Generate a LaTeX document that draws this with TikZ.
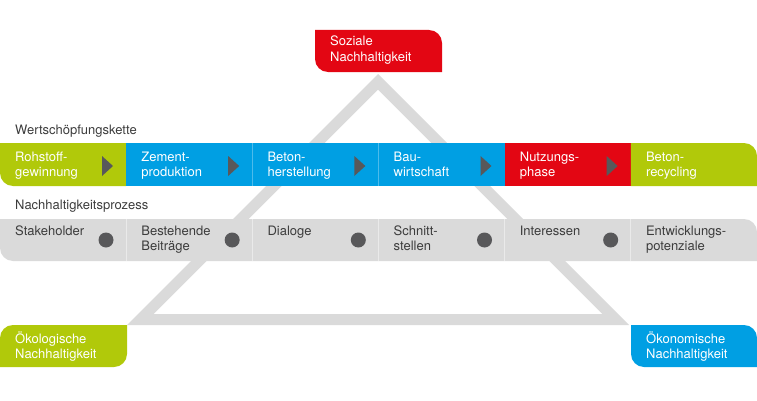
\documentclass[tikz,border=0pt]{standalone}
\usepackage{fontspec}
\setmainfont{TeX Gyre Heros}
\definecolor{cgreen}{HTML}{B1C90A}
\definecolor{cblue}{HTML}{009FE3}
\definecolor{cred}{HTML}{E30613}
\definecolor{cgray}{HTML}{DADADA}
\definecolor{cdark}{HTML}{58585A}
\definecolor{ctext}{HTML}{3C3C3C}
\newcommand{\tl}[1]{\parbox[t]{110pt}{\raggedright #1}}
\begin{document}
\begin{tikzpicture}[x=1pt,y=1pt,
  txt/.style={anchor=base west,inner sep=0pt,font=\fontsize{13}{15}\selectfont},
  wtxt/.style={txt,text=white},
  gtxt/.style={txt,text=ctext},
  arrowmark/.style={fill=cdark},
  dotmark/.style={fill=cdark}]
\useasboundingbox (0,0) rectangle (757,400);
\pgfmathsetmacro{\w}{757/6}
\def\r{13pt}
% triangle
\fill[cgray,even odd rule] (127,75) -- (629,75) -- (378,326) -- cycle
  (153.6,86) -- (602.4,86) -- (378,310.4) -- cycle;
% value chain row
\fill[cgreen] (\w,257) -- (0,257) -- (0,227) arc[start angle=180,end angle=270,radius=\r] -- (\w,214) -- cycle;
\fill[cblue] (\w,214) rectangle (4*\w,257);
\fill[cred] (4*\w,214) rectangle (5*\w,257);
\fill[cgreen] (5*\w,214) -- (757,214) -- (757,244) arc[start angle=0,end angle=90,radius=\r] -- (5*\w,257) -- cycle;
\draw[white,opacity=0.3,line width=0.8pt] (2*\w,214) -- (2*\w,257) (3*\w,214) -- (3*\w,257);
% process row
\fill[cgray] (0,181) -- (0,152) arc[start angle=180,end angle=270,radius=\r] -- (757,139) -- (757,168) arc[start angle=0,end angle=90,radius=\r] -- cycle;
\foreach \k in {1,...,5} \draw[white,opacity=0.45,line width=0.8pt] (\k*\w,139) -- (\k*\w,181);
% arrows and dots
\foreach \k in {0,...,4} {
  \fill[arrowmark] (\k*\w+102,244) -- (\k*\w+113,234) -- (\k*\w+102,224) -- cycle;
  \fill[dotmark] (\k*\w+106,160) circle[radius=7.5pt];
}
% corner boxes
\fill[cred] (315,370) -- (315,341) arc[start angle=180,end angle=270,radius=\r] -- (442,328) -- (442,357) arc[start angle=0,end angle=90,radius=\r] -- cycle;
\fill[cblue] (631,75) -- (631,46) arc[start angle=180,end angle=270,radius=\r] -- (757,33) -- (757,62) arc[start angle=0,end angle=90,radius=\r] -- cycle;
\fill[cgreen] (0,33) -- (114,33) arc[start angle=270,end angle=360,radius=\r] -- (127,75) -- (13,75) arc[start angle=90,end angle=180,radius=\r] -- cycle;
% labels
\node[gtxt] (wsk) at (15,266) {Wertschöpfungskette};
\node[gtxt] (nhp) at (15,191) {Nachhaltigkeitsprozess};
\node[wtxt] (v1) at (15,239) {\tl{Rohstoff-\\gewinnung}};
\node[wtxt] (v2) at (\w+15,239) {\tl{Zement-\\produktion}};
\node[wtxt] (v3) at (2*\w+15,239) {\tl{Beton-\\herstellung}};
\node[wtxt] (v4) at (3*\w+15,239) {\tl{Bau-\\wirtschaft}};
\node[wtxt] (v5) at (4*\w+15,239) {\tl{Nutzungs-\\phase}};
\node[wtxt] (v6) at (5*\w+15,239) {\tl{Beton-\\recycling}};
\node[gtxt] (p1) at (15,165) {\tl{Stakeholder}};
\node[gtxt] (p2) at (\w+15,165) {\tl{Bestehende\\Beiträge}};
\node[gtxt] (p3) at (2*\w+15,165) {\tl{Dialoge}};
\node[gtxt] (p4) at (3*\w+15,165) {\tl{Schnitt-\\stellen}};
\node[gtxt] (p5) at (4*\w+15,165) {\tl{Interessen}};
\node[gtxt] (p6) at (5*\w+15,165) {\tl{Entwicklungs-\\potenziale}};
\node[wtxt] (soz) at (330,354) {\tl{Soziale\\Nachhaltigkeit}};
\node[wtxt] (oek) at (15,57) {\tl{Ökologische\\Nachhaltigkeit}};
\node[wtxt] (oen) at (646,57) {\tl{Ökonomische\\Nachhaltigkeit}};
\end{tikzpicture}
\end{document}
